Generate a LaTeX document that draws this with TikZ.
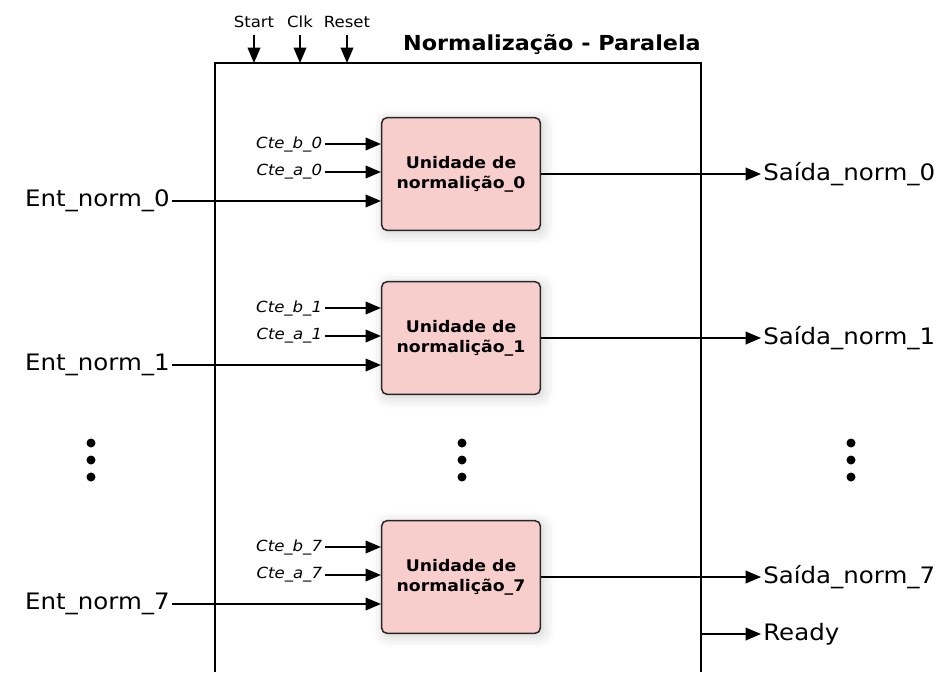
\documentclass[tikz,border=0pt]{standalone}
\usepackage{fontspec}
\setmainfont{DejaVu Sans}[FakeStretch=1.08]
\usetikzlibrary{arrows.meta,positioning,shadows.blur}
\definecolor{unitfill}{HTML}{F8CECC}

\begin{document}
\begin{tikzpicture}[x=0.75pt,y=-0.75pt,>={Triangle[length=11.5pt,width=9.5pt]},
sig/.style={->,line width=1.1pt},
unit/.style={draw=black!85,line width=1.1pt,fill=unitfill,rounded corners=4pt,
  minimum width=119pt,minimum height=84.5pt,align=center,
  font=\bfseries\fontsize{12}{15}\selectfont,
  blur shadow={shadow xshift=2pt,shadow yshift=-2pt,shadow blur radius=9pt,shadow opacity=20}},
port/.style={inner sep=1.5pt,font=\fontsize{17}{20}\selectfont},
cte/.style={inner sep=2pt,font=\itshape\fontsize{11.5}{13}\selectfont},
ctl/.style={inner sep=5pt,anchor=south,font=\fontsize{11.5}{13}\selectfont},
title/.style={inner sep=0pt,font=\bfseries\fontsize{15.5}{18}\selectfont}]
\useasboundingbox (0,0) rectangle (938,672);
% outer block, open at the bottom
\draw[line width=1.1pt] (215,672) -- (215,63) -- (701,63) -- (701,672);
\node[title,anchor=east] (title) at (701,44) {Normalização - Paralela};

% control inputs
\foreach \n/\t/\x in {start/Start/254,clk/Clk/300,reset/Reset/347}{
  \node[ctl] (\n) at (\x,35) {\t};
  \coordinate (\n in) at (\x,63);
  \draw[sig] (\n) -- (\n in);
}

% normalisation units
\foreach \i/\y in {0/174,1/338,7/577}{
  \node[unit] (u\i) at (461,\y) {Unidade de\\normalição\_\i};
  \node[cte,anchor=east] (ctb\i) at (325,\y-30) {Cte\_b\_\i};
  \node[cte,anchor=east] (cta\i) at (325,\y-2) {Cte\_a\_\i};
  \node[port,anchor=east] (ent\i) at (172,\y+27) {Ent\_norm\_\i};
  \node[port,anchor=west] (out\i) at (761,\y) {Saída\_norm\_\i};
  \draw[sig] (ctb\i) -- (ctb\i -| u\i.west);
  \draw[sig] (cta\i) -- (cta\i -| u\i.west);
  \draw[sig] (ent\i) -- (ent\i -| u\i.west);
  \draw[sig] (u\i) -- (out\i);
}

\node[port,anchor=west] (ready) at (761,634) {Ready};
\coordinate (readyout) at (701,634);
\draw[sig] (readyout) -- (ready);

% ellipsis dots
\foreach \x in {91,462,851}
  \foreach \y in {443,460,477}
    \fill (\x,\y) circle (4.5);
\end{tikzpicture}
\end{document}
